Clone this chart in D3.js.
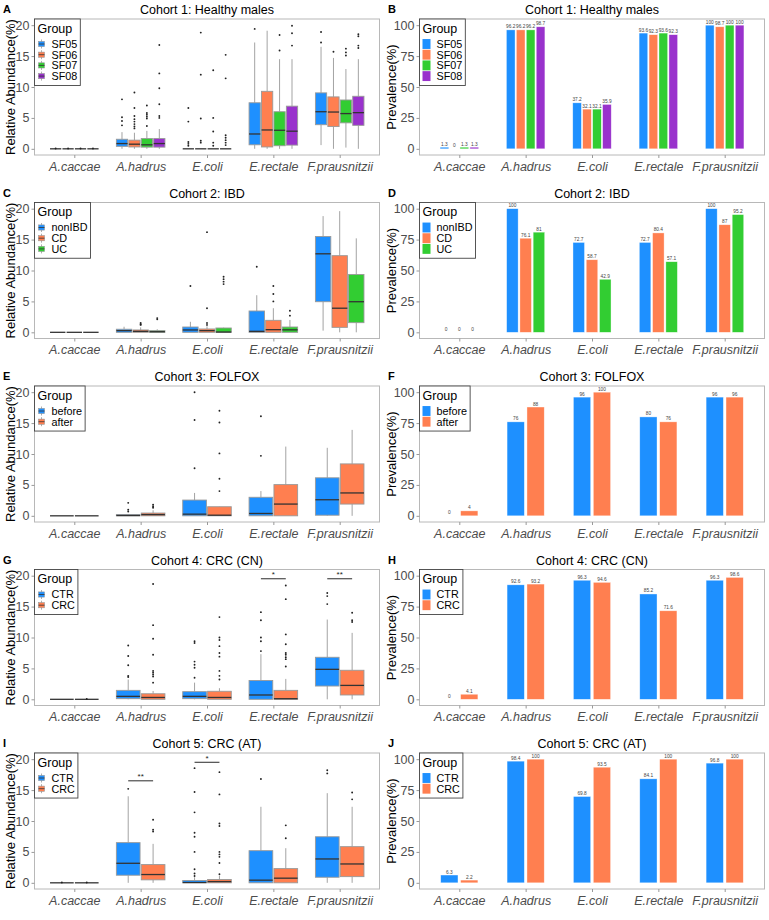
<!DOCTYPE html>
<html><head><meta charset="utf-8">
<script src="https://cdn.jsdelivr.net/npm/d3@7"></script>
<style>body{margin:0;background:#fff}svg{display:block}text{font-family:"Liberation Sans",Arial,sans-serif}</style>
</head><body><svg id="c" width="769" height="920"></svg>
<script>
// ---------- data ----------
const categories = ["A.caccae","A.hadrus","E.coli","E.rectale","F.prausnitzii"];
const boxTicks = [0,5,10,15,20];
const barTicks = [0,25,50,75,100];

const groups1 = ["SF05","SF06","SF07","SF08"];
const colors1 = ["#1E90FF","#FF7F50","#32CD32","#9932CC"];
const groups2 = ["nonIBD","CD","UC"];
const colors2 = ["#1E90FF","#FF7F50","#32CD32"];
const groups3 = ["before","after"];
const groups45 = ["CTR","CRC"];
const colorsTwo = ["#1E90FF","#FF7F50"];

const titles = ["Cohort 1: Healthy males","Cohort 2: IBD","Cohort 3: FOLFOX","Cohort 4: CRC (CN)","Cohort 5: CRC (AT)"];

// box stats per category, per group: [lowWhisker, q1, median, q3, highWhisker]
const boxA = [
  [[0,0,0,0,0],[0,0,0,0,0],[0,0,0,0,0],[0,0,0,0,0]],
  [[0,0.4,0.85,1.55,2.7],[0,0.3,0.75,1.4,2.6],[0,0.27,0.65,1.66,2.9],[0,0.27,0.85,1.66,3.2]],
  [[0,0,0,0,0],[0,0,0,0,0],[0,0,0,0,0],[0,0,0,0,0]],
  [[0,0.65,2.4,7.45,17.2],[0,0.3,3.05,9.3,19.1],[0,0.5,3.0,6.0,14.5],[0,0.6,2.85,6.9,14.5]],
  [[0.6,3.9,6.0,9.05,16.5],[0,3.6,5.95,8.4,14.7],[0.2,4.2,5.7,7.9,12.9],[0,3.8,5.85,8.5,14.5]]
];
const outA = [
  [[0.05],[0.05],[0.05],[0.05]],
  [[3.8,4.5,5.1,8.0],[3.3,3.6,4.0,4.4,4.8,5.3,6.6,9.1],[3.7,4.9,5.2,5.5,5.8,7.0],[5.0,5.3,7.2,9.8,12.2,16.8]],
  [[0.5,0.8,1.1,4.4,6.6],[1.0,1.3,4.9,12.0,18.8],[0.5,1.0,2.8,5.0,12.7],[0.6,1.0,1.4,1.8,2.2,11.4,15.2]],
  [[19.4],[],[15.9,18.4],[16.7,18.7,19.9]],
  [[17.2,18.9],[15.7],[15.1,15.6,16.2],[16.3,16.7,18.2,18.55]]
];
const boxC = [
  [[0,0,0,0,0],[0,0,0,0,0],[0,0,0,0,0]],
  [[0,0,0.27,0.5,0.9],[0,0,0.16,0.38,0.8],[0,0,0.1,0.27,0.5]],
  [[0,0,0.38,0.86,1.7],[0,0,0.27,0.54,0.97],[0,0,0.05,0.7,0.75]],
  [[0,0,0.16,3.45,6.0],[0,0,0.43,1.94,3.9],[0,0,0.4,0.86,2.0]],
  [[0.27,4.95,12.7,15.5,18.8],[0,0.8,3.9,12.4,19.6],[0,1.56,4.95,9.35,15.2]]
];
const outC = [
  [[],[],[]],
  [[],[1.2,1.3,1.5],[2.1,2.3]],
  [[7.5],[1.2,1.5,3.9,16.2],[7.8,8.2,8.6,9.0]],
  [[10.6],[5.0,6.2,7.5],[2.7,3.5]],
  [[],[],[]]
];
const boxE = [
  [[0,0,0,0,0],[0,0,0,0,0]],
  [[0,0,0.05,0.2,0.3],[0,0,0.2,0.45,0.9]],
  [[0,0,0.27,2.55,3.7],[0,0,0.1,1.47,1.5]],
  [[0,0,0.38,3.0,4.0],[0,0,1.9,5.05,11.2]],
  [[0,0.1,2.6,6.15,11.0],[0,1.9,3.7,8.4,13.9]]
];
const outE = [
  [[],[]],
  [[0.7,1.0,2.1],[1.3,1.5,1.8]],
  [[7.7,15.5,20.0],[4.0,6.0,10.1,15.1,17.0]],
  [[9.7,16.1],[]],
  [[],[]]
];
const boxG = [
  [[0,0,0,0,0],[0,0,0,0,0]],
  [[0,0.1,0.48,1.45,3.2],[0,0,0.3,0.9,1.35]],
  [[0,0.1,0.48,1.24,2.7],[0,0,0.3,1.3,1.8]],
  [[0,0,0.7,3.05,7.3],[0,0,0.1,1.45,3.3]],
  [[0,2.15,4.85,6.8,12.9],[0,0.7,2.25,4.7,10.75]]
];
const outG = [
  [[],[0.05]],
  [[3.6,3.8,5.5,7.0,8.7],[2.7,3.7,4.0,4.3,4.6,7.2,9.8,12.0,18.65]],
  [[3.5,5.1,5.6,6.1,9.1,9.4],[3.2,3.8,4.6,6.9,7.5,8.6,9.6,10.0,13.3]],
  [[7.8,9.4,10.0,12.8,14.1],[5.3,6.5,6.8,7.2,7.5,8.9,10.5,16.2,18.4]],
  [[15.4,16.7,17.2],[12.5,12.8,14.0]]
];
const boxI = [
  [[0,0,0,0,0],[0,0,0,0,0]],
  [[0,1.23,3.16,6.5,14.0],[0,0.48,1.34,2.95,6.3]],
  [[0,0,0.05,0.38,0.9],[0,0,0.2,0.54,1.2]],
  [[0,0,0.43,5.2,12.3],[0,0,0.75,2.3,5.6]],
  [[0,0.9,3.86,7.45,14.5],[0,1.0,3.05,5.85,12.3]]
];
const outI = [
  [[0.05],[0.05]],
  [[15.2],[8.3,8.6,10.2]],
  [[1.1,1.5,2.2,5.0,7.45,8.1,11.4,14.7,18.55],[1.4,3.2,4.2,4.6,5.0,9.2,9.6,14.3,17.9]],
  [[16.8],[7.2,9.3]],
  [[17.7,18.2],[13.5,14.6]]
];
// significance: [category, y-value, label]
const sigG = [["E.rectale",19.5,"*"],["F.prausnitzii",19.5,"**"]];
const sigI = [["A.hadrus",16.5,"**"],["E.coli",19.5,"*"]];

// prevalence (%) per category, per group
const prevB = [[1.3,0,1.3,1.3],[96.2,96.2,96.2,98.7],[37.2,32.1,32.1,35.9],[93.6,92.3,93.6,92.3],[100,98.7,100,100]];
const prevD = [[0,0,0],[100,76.1,81],[72.7,58.7,42.9],[72.7,80.4,57.1],[100,87,95.2]];
const prevF = [[0,4],[76,88],[96,100],[80,76],[96,96]];
const prevH = [[0,4.1],[92.6,93.2],[96.3,94.6],[85.2,71.6],[96.3,98.6]];
const prevJ = [[6.3,2.2],[98.4,100],[69.8,93.5],[84.1,100],[96.8,100]];

// ---------- drawing ----------
const svg = d3.select("#c");
const L=34.5, R=379.5, T=19, B=155;
const rowH = 183.5;

function frame(g, letter, title, yLabel, yLabelX, y, ticks) {
  g.append("rect").attr("x",L).attr("y",T).attr("width",R-L).attr("height",B-T)
    .attr("fill","#fff").attr("stroke","#b8b8b8").attr("stroke-width",1);
  const x = d3.scalePoint().domain(categories).range([L,R]).padding(0.6);
  const ya = g.append("g").attr("transform",`translate(${L},0)`)
    .call(d3.axisLeft(y).tickValues(ticks).tickSize(3).tickPadding(2));
  ya.select(".domain").remove();
  ya.selectAll("line").attr("stroke","#999");
  ya.selectAll("text").attr("fill","#4d4d4d").style("font-size","12.5px").style("font-family","Liberation Sans, Arial, sans-serif");
  const xa = g.append("g").attr("transform",`translate(0,${B})`)
    .call(d3.axisBottom(x).tickSize(3).tickPadding(4));
  xa.select(".domain").remove();
  xa.selectAll("line").attr("stroke","#999");
  xa.selectAll("text").attr("fill","#4d4d4d").style("font-size","12.5px").style("font-style","italic").style("font-family","Liberation Sans, Arial, sans-serif");
  g.append("text").attr("x",(L+R)/2).attr("y",14).attr("text-anchor","middle")
    .style("font-size","12.5px").attr("fill","#000").text(title);
  g.append("text").attr("x",3).attr("y",13).style("font-size","11px").style("font-weight","bold").text(letter);
  g.append("text").attr("transform",`translate(${yLabelX},${(T+B)/2}) rotate(-90)`)
    .attr("text-anchor","middle").attr("dominant-baseline","central")
    .style("font-size","13px").attr("fill","#000").text(yLabel);
  return x;
}

function legend(g, groups, colors, type) {
  const lg = g.append("g").attr("transform",`translate(${L},${T})`);
  const bg = lg.append("rect").attr("fill","#fff").attr("stroke","#444").attr("stroke-width",0.9);
  const t = lg.append("text").attr("x",3).attr("y",13.5).style("font-size","12.5px").text("Group");
  let w = t.node().getComputedTextLength() + 6;
  const step = 10.7;
  groups.forEach((gr,i) => {
    const cy = 25 + i*step;
    if (type === "box") {
      lg.append("line").attr("x1",7).attr("x2",7).attr("y1",cy-4.5).attr("y2",cy+4.5).attr("stroke","#999").attr("stroke-width",0.8);
      lg.append("rect").attr("x",4).attr("y",cy-2.6).attr("width",6).attr("height",5.2)
        .attr("fill",colors[i]).attr("stroke","#999").attr("stroke-width",0.6);
      lg.append("line").attr("x1",4).attr("x2",10).attr("y1",cy).attr("y2",cy).attr("stroke","#333").attr("stroke-width",0.8);
    } else {
      lg.append("rect").attr("x",3).attr("y",cy-step/2+0.4).attr("width",8).attr("height",step-0.8).attr("fill",colors[i]);
    }
    const tt = lg.append("text").attr("x",17).attr("y",cy+3.8).style("font-size","10.8px").text(gr);
    w = Math.max(w, 17 + tt.node().getComputedTextLength() + 3);
  });
  const h = 25 + (groups.length-0.5)*step + 4;
  bg.attr("x",0).attr("y",0).attr("width",w).attr("height",h);
}

function boxPanel(ox, oy, letter, title, groups, colors, stats, outs, sigs) {
  const g = svg.append("g").attr("transform",`translate(${ox},${oy})`);
  const y = d3.scaleLinear().domain([-1,21]).range([B,T]);
  const x = frame(g, letter, title, "Relative Abundance(%)", 10, y, boxTicks);
  const step = x.step();
  const xg = d3.scaleBand().domain(groups).range([-0.375*step, 0.375*step]);
  const bw = xg.bandwidth() - 1.2;
  categories.forEach((cat, ci) => {
    groups.forEach((gr, gi) => {
      const s = stats[ci][gi];
      const cx = x(cat) + xg(gr) + xg.bandwidth()/2;
      const bg = g.append("g");
      bg.append("line").attr("x1",cx).attr("x2",cx).attr("y1",y(s[3])).attr("y2",y(s[4])).attr("stroke","#999").attr("stroke-width",0.9);
      bg.append("line").attr("x1",cx).attr("x2",cx).attr("y1",y(s[0])).attr("y2",y(s[1])).attr("stroke","#999").attr("stroke-width",0.9);
      bg.append("rect").attr("x",cx-bw/2).attr("y",y(s[3])).attr("width",bw).attr("height",Math.max(0,y(s[1])-y(s[3])))
        .attr("fill",colors[gi]).attr("stroke","#999").attr("stroke-width",0.9);
      bg.append("line").attr("x1",cx-bw/2).attr("x2",cx+bw/2).attr("y1",y(s[2])).attr("y2",y(s[2])).attr("stroke","#333").attr("stroke-width",1.3);
      outs[ci][gi].forEach(v => {
        bg.append("circle").attr("cx",cx).attr("cy",y(v)).attr("r",0.95).attr("fill","#222");
      });
    });
  });
  (sigs||[]).forEach(([cat,v,lab]) => {
    const x1 = x(cat) + xg(groups[0]) + xg.bandwidth()/2;
    const x2 = x(cat) + xg(groups[1]) + xg.bandwidth()/2;
    g.append("line").attr("x1",x1).attr("x2",x2).attr("y1",y(v)).attr("y2",y(v)).attr("stroke","#111").attr("stroke-width",0.9);
    g.append("text").attr("x",(x1+x2)/2).attr("y",y(v)-1.5).attr("text-anchor","middle").style("font-size","8px").attr("fill","#222").text(lab);
  });
  legend(g, groups, colors, "box");
}

function barPanel(ox, oy, letter, title, groups, colors, prev) {
  const g = svg.append("g").attr("transform",`translate(${ox},${oy})`);
  const y = d3.scaleLinear().domain([-5,105]).range([B,T]);
  const x = frame(g, letter, title, "Prevalence(%)", 6, y, barTicks);
  const step = x.step();
  const xg = d3.scaleBand().domain(groups).range([-0.3*step, 0.3*step]);
  const bw = 0.52*step/groups.length;
  categories.forEach((cat, ci) => {
    groups.forEach((gr, gi) => {
      const v = prev[ci][gi];
      const cx = x(cat) + xg(gr) + xg.bandwidth()/2;
      if (v > 0) {
        g.append("rect").attr("x",cx-bw/2).attr("y",y(v)).attr("width",bw).attr("height",y(0)-y(v))
          .attr("fill",colors[gi]).attr("stroke","#fff").attr("stroke-opacity",0.6).attr("stroke-width",0.6);
      }
      g.append("text").attr("x",cx).attr("y",y(v)-1.5).attr("text-anchor","middle")
        .style("font-size","4.8px").attr("fill","#444").text(v);
    });
  });
  legend(g, groups, colors, "bar");
}

boxPanel(0, 0, "A", titles[0], groups1, colors1, boxA, outA);
barPanel(385, 0, "B", titles[0], groups1, colors1, prevB);
boxPanel(0, rowH, "C", titles[1], groups2, colors2, boxC, outC);
barPanel(385, rowH, "D", titles[1], groups2, colors2, prevD);
boxPanel(0, 2*rowH, "E", titles[2], groups3, colorsTwo, boxE, outE);
barPanel(385, 2*rowH, "F", titles[2], groups3, colorsTwo, prevF);
boxPanel(0, 3*rowH, "G", titles[3], groups45, colorsTwo, boxG, outG, sigG);
barPanel(385, 3*rowH, "H", titles[3], groups45, colorsTwo, prevH);
boxPanel(0, 4*rowH, "I", titles[4], groups45, colorsTwo, boxI, outI, sigI);
barPanel(385, 4*rowH, "J", titles[4], groups45, colorsTwo, prevJ);
</script></body></html>
